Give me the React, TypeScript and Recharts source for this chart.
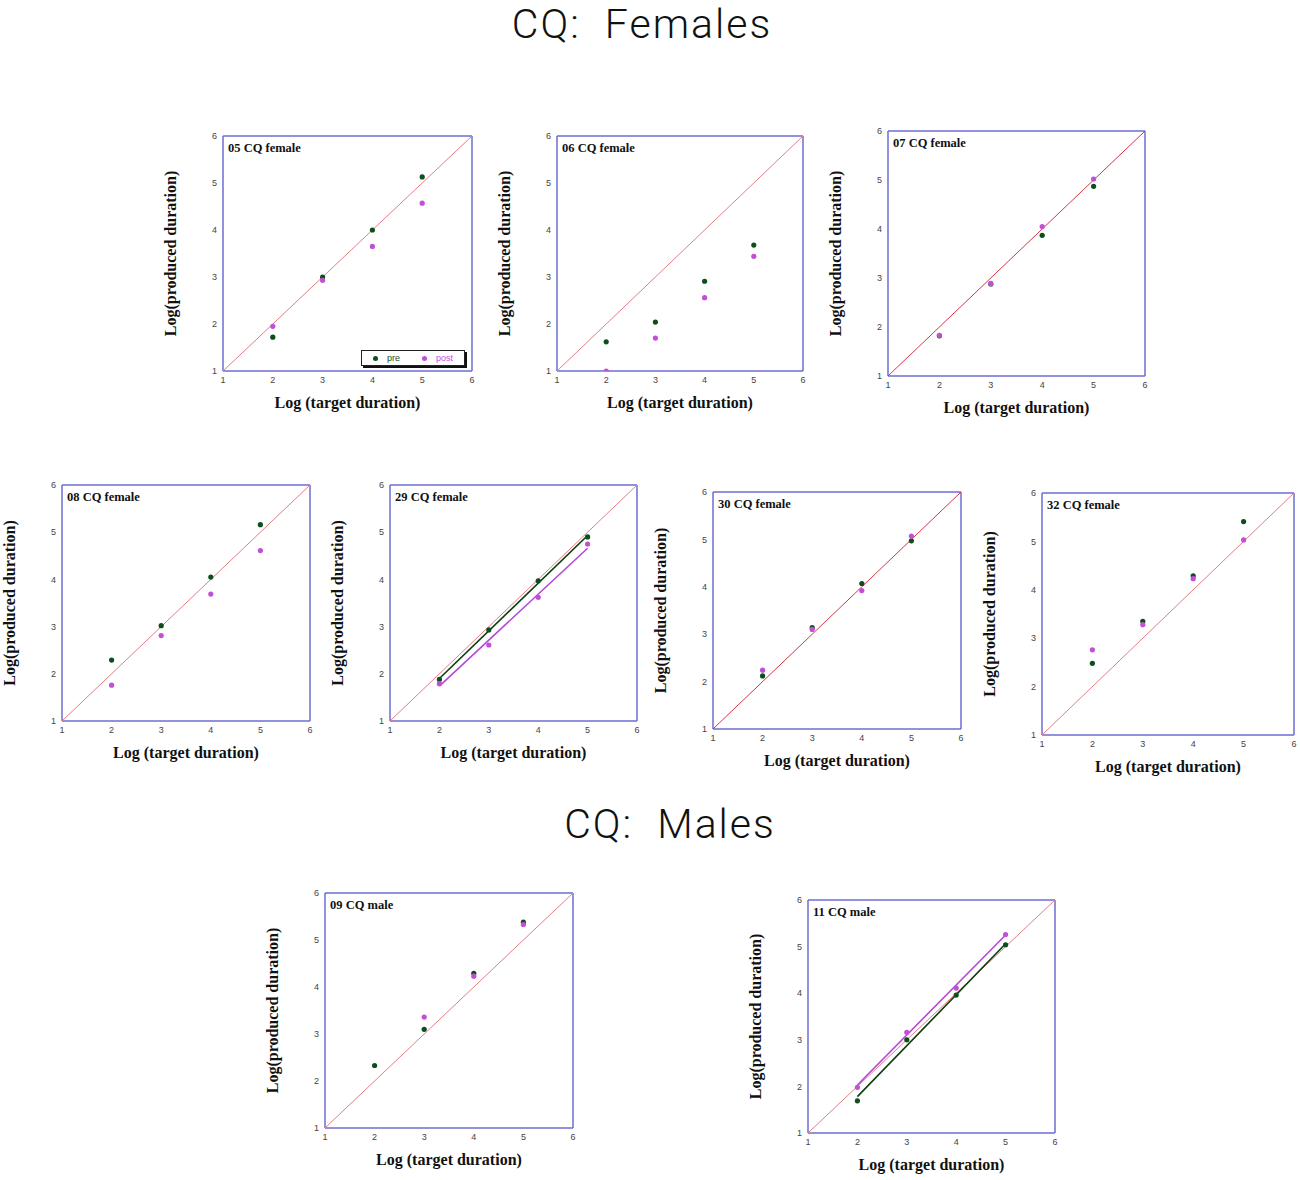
import React from "react";
import { ScatterChart, Scatter, XAxis, YAxis, Label, Legend } from "recharts";

// target durations (log) shared by every subject
const targets = [2, 3, 4, 5];
const identityX = [1, 6];
const fitX = [2, 5];

// produced durations (log)
const p05Pre = [1.72, 3.0, 4.0, 5.13];
const p05Post = [1.95, 2.93, 3.65, 4.57];
const p06Pre = [1.62, 2.04, 2.91, 3.68];
const p06Post = [1.0, 1.7, 2.56, 3.44];
const p07Pre = [1.82, 2.88, 3.87, 4.87];
const p07Post = [1.83, 2.89, 4.05, 5.02];
const p08Pre = [2.29, 3.02, 4.05, 5.16];
const p08Post = [1.76, 2.81, 3.69, 4.61];
const p29Pre = [1.88, 2.93, 3.97, 4.9];
const p29Post = [1.79, 2.61, 3.62, 4.75];
const p29PreFit = [1.9, 4.93];
const p29PostFit = [1.74, 4.66];
const p30Pre = [2.12, 3.14, 4.07, 4.97];
const p30Post = [2.24, 3.1, 3.92, 5.07];
const p32Pre = [2.48, 3.35, 4.29, 5.41];
const p32Post = [2.76, 3.28, 4.23, 5.03];
const p09Pre = [2.33, 3.1, 4.29, 5.38];
const p09Post = [null, 3.36, 4.23, 5.33];
const p11Pre = [1.69, 3.0, 3.96, 5.04];
const p11Post = [1.98, 3.16, 4.11, 5.26];
const p11PreFit = [1.78, 5.06];
const p11PostFit = [2.03, 5.25];

const majorTicks = [1, 2, 3, 4, 5, 6];
const minorTicks = [1.25, 1.5, 1.75, 2.25, 2.5, 2.75, 3.25, 3.5, 3.75, 4.25, 4.5, 4.75, 5.25, 5.5, 5.75];

const FRAME = "#6c6cd2";
const TICK = "#7c7cc4";
const PRE = "#0d4f1c";
const POST = "#c24fd8";
const PRE_FIT = "#0b3d0b";
const POST_FIT = "#b548d8";
const DIAG_LIGHT = "#e27d84";
const DIAG_DARK = "#d43648";

const toPts = (xs: number[], ys: (number | null)[]) =>
  ys.map((y, i) => ({ x: xs[i], y })).filter((p) => p.y != null);

const dotShape = (color: string) => (p: any) => <circle cx={p.cx} cy={p.cy} r={2.6} fill={color} />;
const noShape = () => <g />;

const titleStyle = {
  fontFamily: "'Liberation Serif', 'Times New Roman', serif",
  fontWeight: 700,
  fontSize: 16,
  fill: "#111",
  textAnchor: "middle" as const,
};
const tickStyle = { fontSize: 9, fill: "#444", fontFamily: "'Liberation Sans', Arial, sans-serif" };

const LegendBox = ({ payload }: any) => {
  const order = ["pre", "post"];
  const items = (payload || [])
    .filter((e: any) => order.includes(e.value))
    .sort((a: any, b: any) => order.indexOf(a.value) - order.indexOf(b.value));
  return (
    <div
      style={{
        width: 102,
        height: 14,
        border: "1px solid #222",
        boxShadow: "2px 2px 0 #111",
        background: "#fff",
        display: "flex",
        alignItems: "center",
        justifyContent: "space-around",
        fontFamily: "'Liberation Sans', Arial, sans-serif",
        fontSize: 9,
      }}
    >
      {items.map((e: any) => (
        <span key={e.value} style={{ color: e.color, display: "flex", alignItems: "center", gap: 9 }}>
          <span style={{ width: 5, height: 5, borderRadius: 3, background: e.color, display: "inline-block" }} />
          {e.value}
        </span>
      ))}
    </div>
  );
};

type PanelProps = {
  label: string;
  left: number;
  top: number;
  width: number;
  height: number;
  pre: (number | null)[];
  post: (number | null)[];
  preFit?: number[];
  postFit?: number[];
  diag: string;
  legend?: boolean;
};

const ML = 62; // y axis band
const MT = 8;
const MR = 5;
const MB = 46; // x axis band

// pairs of frame axes; an invisible series binds each pair so the axes get drawn
const framePairs = [
  ["t1", "l1"],
  ["t2", "l2"],
  ["b1", "r1"],
  ["b2", "r2"],
];

function Panel({ label, left, top, width, height, pre, post, preFit, postFit, diag, legend }: PanelProps) {
  const W = width + ML + MR;
  const H = height + MT + MB;
  const frameAxis = { type: "number" as const, domain: [1, 6], allowDataOverflow: true, interval: 0 as const, tick: false, mirror: true };
  const major = { ticks: majorTicks, tickSize: 5, axisLine: { stroke: FRAME, strokeWidth: 1.5 }, tickLine: { stroke: TICK } };
  const minor = { ticks: minorTicks, tickSize: 2.5, axisLine: false, tickLine: { stroke: TICK } };
  return (
    <div style={{ position: "absolute", left: left - ML, top: top - MT, width: W, height: H }}>
      <ScatterChart width={W} height={H} margin={{ top: MT, right: MR, left: 0, bottom: 0 }}>
        <XAxis
          xAxisId="x"
          dataKey="x"
          type="number"
          domain={[1, 6]}
          ticks={majorTicks}
          interval={0}
          allowDataOverflow
          tickLine={false}
          axisLine={false}
          tickSize={4}
          tickMargin={2}
          height={MB}
          tick={tickStyle}
        >
          <Label value="Log (target duration)" position="insideBottom" offset={9} style={titleStyle} />
        </XAxis>
        <YAxis
          yAxisId="y"
          dataKey="y"
          type="number"
          domain={[1, 6]}
          ticks={majorTicks}
          interval={0}
          allowDataOverflow
          tickLine={false}
          axisLine={false}
          tickSize={4}
          tickMargin={2}
          width={ML}
          tick={tickStyle}
        >
          <Label value="Log(produced duration)" position="insideLeft" angle={-90} offset={9} style={titleStyle} />
        </YAxis>

        {/* boxed frame with inward major and minor ticks */}
        <XAxis xAxisId="t1" dataKey="x" orientation="top" height={1} {...frameAxis} {...major} />
        <XAxis xAxisId="t2" dataKey="x" orientation="top" height={1} {...frameAxis} {...minor} />
        <XAxis xAxisId="b1" dataKey="x" orientation="bottom" height={1} {...frameAxis} {...major} />
        <XAxis xAxisId="b2" dataKey="x" orientation="bottom" height={1} {...frameAxis} {...minor} />
        <YAxis yAxisId="l1" dataKey="y" orientation="left" width={1} {...frameAxis} {...major} />
        <YAxis yAxisId="l2" dataKey="y" orientation="left" width={1} {...frameAxis} {...minor} />
        <YAxis yAxisId="r1" dataKey="y" orientation="right" width={1} {...frameAxis} {...major} />
        <YAxis yAxisId="r2" dataKey="y" orientation="right" width={1} {...frameAxis} {...minor} />
        {framePairs.map(([xa, ya]) => (
          <Scatter
            key={xa}
            name={`frame-${xa}`}
            xAxisId={xa}
            yAxisId={ya}
            data={toPts(identityX, identityX)}
            shape={noShape}
            legendType="none"
            isAnimationActive={false}
          />
        ))}

        <Scatter
          name="identity"
          xAxisId="x"
          yAxisId="y"
          data={toPts(identityX, identityX)}
          line={{ stroke: diag, strokeWidth: 1 }}
          shape={noShape}
          legendType="none"
          isAnimationActive={false}
        />
        {preFit && (
          <Scatter name="preFit" xAxisId="x" yAxisId="y" data={toPts(fitX, preFit)} line={{ stroke: PRE_FIT, strokeWidth: 1.6 }} shape={noShape} legendType="none" isAnimationActive={false} />
        )}
        {postFit && (
          <Scatter name="postFit" xAxisId="x" yAxisId="y" data={toPts(fitX, postFit)} line={{ stroke: POST_FIT, strokeWidth: 1.6 }} shape={noShape} legendType="none" isAnimationActive={false} />
        )}
        <Scatter name="pre" xAxisId="x" yAxisId="y" data={toPts(targets, pre)} fill={PRE} shape={dotShape(PRE)} isAnimationActive={false} />
        <Scatter name="post" xAxisId="x" yAxisId="y" data={toPts(targets, post)} fill={POST} shape={dotShape(POST)} isAnimationActive={false} />

        {legend && (
          <Legend
            layout="horizontal"
            verticalAlign="middle"
            align="center"
            content={<LegendBox />}
            wrapperStyle={{ left: ML + width - 111, top: MT + height - 21, width: "auto" }}
          />
        )}
      </ScatterChart>
      <div
        style={{
          position: "absolute",
          left: ML + 5,
          top: MT + 6,
          fontFamily: "'Liberation Serif', 'Times New Roman', serif",
          fontWeight: 700,
          fontSize: 12.5,
          lineHeight: 1,
          color: "#111",
          whiteSpace: "pre",
        }}
      >
        {label}
      </div>
    </div>
  );
}

const sectionTitle = {
  position: "absolute" as const,
  width: 600,
  textAlign: "center" as const,
  fontFamily: "Roboto, 'Open Sans', sans-serif",
  fontWeight: 300,
  fontSize: 41,
  lineHeight: 1,
  letterSpacing: 2,
  color: "#111",
  whiteSpace: "pre" as const,
};

export default function App() {
  return (
    <div style={{ position: "absolute", left: 0, top: 0, width: 1300, height: 1180, background: "#fff", overflow: "hidden" }}>
      <div style={{ ...sectionTitle, left: 342, top: 4 }}>CQ:  Females</div>
      <div style={{ ...sectionTitle, left: 370, top: 804 }}>CQ:  Males</div>

      <Panel label="05 CQ female" left={223} top={136} width={249} height={235} pre={p05Pre} post={p05Post} diag={DIAG_LIGHT} legend />
      <Panel label="06 CQ female" left={557} top={136} width={246} height={235} pre={p06Pre} post={p06Post} diag={DIAG_LIGHT} />
      <Panel label="07 CQ female" left={888} top={131} width={257} height={245} pre={p07Pre} post={p07Post} diag={DIAG_DARK} />

      <Panel label="08 CQ female" left={62} top={485} width={248} height={236} pre={p08Pre} post={p08Post} diag={DIAG_LIGHT} />
      <Panel label="29 CQ female" left={390} top={485} width={247} height={236} pre={p29Pre} post={p29Post} preFit={p29PreFit} postFit={p29PostFit} diag={DIAG_LIGHT} />
      <Panel label="30 CQ female" left={713} top={492} width={248} height={237} pre={p30Pre} post={p30Post} diag={DIAG_DARK} />
      <Panel label="32 CQ female" left={1042} top={493} width={252} height={242} pre={p32Pre} post={p32Post} diag={DIAG_LIGHT} />

      <Panel label="09 CQ male" left={325} top={893} width={248} height={235} pre={p09Pre} post={p09Post} diag={DIAG_LIGHT} />
      <Panel label="11 CQ male" left={808} top={900} width={247} height={233} pre={p11Pre} post={p11Post} preFit={p11PreFit} postFit={p11PostFit} diag={DIAG_LIGHT} />
    </div>
  );
}
